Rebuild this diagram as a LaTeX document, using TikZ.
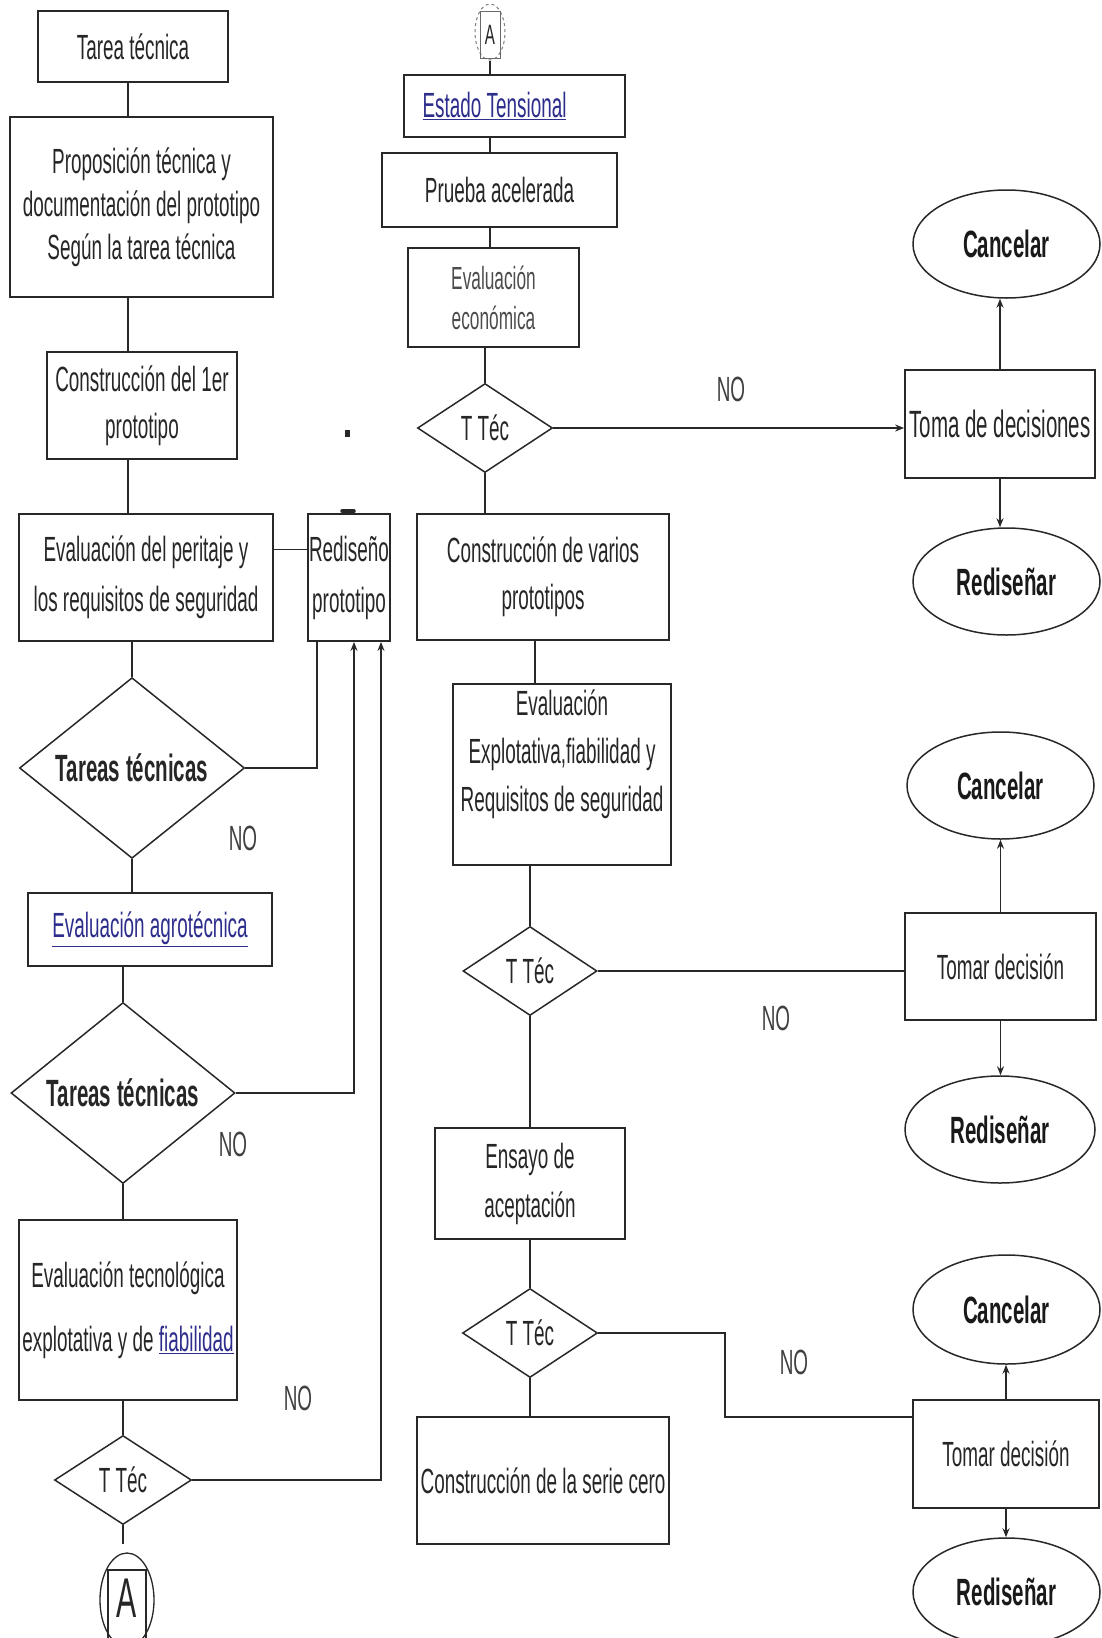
\documentclass[tikz,border=0pt]{standalone}
\usepackage{fontspec}
\setmainfont{Liberation Sans}[FakeStretch=0.54]
\usetikzlibrary{shapes.geometric,arrows.meta}
\definecolor{enlace}{RGB}{45,45,140}
\definecolor{trazo}{RGB}{40,40,40}
\newcommand{\letra}{\fontsize{35}{46}\selectfont}
\newcommand{\letrab}{\fontsize{38}{46}\selectfont\bfseries}
\newcommand{\enlace}[1]{\textcolor{enlace}{\underline{#1}}}
\tikzset{
  caja/.style={draw=trazo, line width=1.8pt, rectangle, inner sep=0pt, align=center, font=\letra, text=black!85},
  rombo/.style={draw=trazo, line width=1.5pt, diamond, inner sep=0pt, align=center, font=\letra, text=black!85},
  ovalo/.style={draw=trazo, line width=1.5pt, ellipse, inner sep=0pt, font=\letrab, text=black!90},
  linea/.style={draw=trazo, line width=1.3pt},
  flecha/.style={linea, -{Stealth[length=9pt,width=7pt]}},
  etiq/.style={font=\letra, text=black!75}
}
\begin{document}
\begin{tikzpicture}[x=1pt,y=-1pt]
\useasboundingbox (0,0) rectangle (1102,1638);
% columna izquierda
\node[caja, minimum width=190pt, minimum height=71pt] (tarea) at (133,46.5) {Tarea técnica};
\node[caja, minimum width=263pt, minimum height=180pt, font={\fontsize{35}{43}\selectfont}] (propos) at (141.5,207) {Proposición técnica y\\documentación del prototipo\\Según la tarea técnica};
\node[caja, minimum width=190pt, minimum height=107pt, font={\fontsize{35}{47}\selectfont}] (constr1) at (142,405.5) {Construcción del 1er\\prototipo};
\node[caja, minimum width=254pt, minimum height=127pt, font={\fontsize{35}{50}\selectfont}] (peritaje) at (146,577.5) {Evaluación del peritaje y\\los requisitos de seguridad};
\node[caja, minimum width=82pt, minimum height=127pt, font={\fontsize{35}{51}\selectfont}] (redis) at (349,577.5) {Rediseño\\prototipo};
\node[rombo, minimum width=225pt, minimum height=180pt, font=\letrab] (TT1) at (132,768) {Tareas técnicas};
\node[caja, minimum width=244pt, minimum height=73pt] (agro) at (150,929.5) {\enlace{Evaluación agrotécnica}};
\node[rombo, minimum width=224pt, minimum height=181pt, font=\letrab] (TT2) at (123,1093) {Tareas técnicas};
\node[caja, minimum width=218pt, minimum height=180pt, font={\fontsize{35}{64}\selectfont}] (tecno) at (128,1310) {Evaluación tecnológica\\explotativa y de \enlace{fiabilidad}};
\node[rombo, minimum width=137pt, minimum height=89pt] (TTl) at (123,1480) {T Téc};
\node[draw=trazo, line width=1.3pt, ellipse, minimum width=54pt, minimum height=94pt] (Abot) at (127,1600) {};
\draw[trazo, line width=1.2pt] (108,1570) rectangle (146,1650);
\node[font={\fontsize{56}{56}\selectfont}, text=black!85] (Aletra) at (127,1598) {A};
\node[etiq] (no1) at (243,838) {NO};
\node[etiq] (no2) at (233,1144) {NO};
\node[etiq] (no3) at (298,1398) {NO};
\fill[trazo] (345,430) rectangle (350,437);
\draw[trazo, line width=3.5pt, line cap=round] ([xshift=-7pt,yshift=2pt]redis.north) -- ([xshift=5pt,yshift=2pt]redis.north);
\coordinate (colL) at (128,0);
\draw[linea] (tarea.south -| colL) -- (propos.north -| colL);
\draw[linea] (propos.south -| colL) -- (constr1.north -| colL);
\draw[linea] (constr1.south -| colL) -- (peritaje.north -| colL);
\draw[linea] (peritaje.south -| TT1.north) -- (TT1.north);
\draw[linea] ([yshift=28pt]peritaje.east) -- ([yshift=28pt]redis.west);
\draw[linea] (TT1.south) -- (TT1.south |- agro.north);
\draw[linea] (agro.south -| TT2.north) -- (TT2.north);
\draw[linea] (TT2.south) -- (TT2.south |- tecno.north);
\draw[linea] (tecno.south -| TTl.north) -- (TTl.north);
\draw[linea] (TTl.south) -- ([yshift=8pt]TTl.south |- Abot.north);
\draw[linea] (TT1.east) -| ([xshift=-32pt]redis.south);
\draw[flecha] (TT2.east) -| ([xshift=5pt]redis.south);
\draw[flecha] (TTl.east) -| ([xshift=32pt]redis.south);
% columna central
\node[draw=trazo!60, dashed, line width=1pt, ellipse, minimum width=30pt, minimum height=56pt] (Atop) at (490,32) {};
\draw[trazo!70, line width=1pt] (480,11) rectangle (500,58);
\node[font={\fontsize{28}{28}\selectfont}, text=black!85] (Aletra2) at (490,35) {A};
\node[caja, minimum width=221pt, minimum height=62pt] (estado) at (514.5,106) {\hspace*{-40pt}\enlace{Estado Tensional}};
\node[caja, minimum width=235pt, minimum height=74pt] (prueba) at (499.5,190) {Prueba acelerada};
\node[caja, minimum width=171pt, minimum height=99pt, font={\fontsize{32}{40}\selectfont}, text=black!70] (econ) at (493.5,297.5) {Evaluación\\económica};
\node[rombo, minimum width=135pt, minimum height=89pt] (M1) at (485,428) {T Téc};
\node[caja, minimum width=252pt, minimum height=126pt, font={\fontsize{35}{47}\selectfont}] (varios) at (543,577) {Construcción de varios\\prototipos};
\node[caja, minimum width=218pt, minimum height=181pt, font={\fontsize{35}{48}\selectfont}] (explot) at (562,774.5) {Evaluación\\Explotativa,fiabilidad y\\Requisitos de seguridad\\\mbox{}};
\node[rombo, minimum width=134pt, minimum height=89pt] (M2) at (530,971) {T Téc};
\node[caja, minimum width=190pt, minimum height=111pt, font={\fontsize{35}{49}\selectfont}] (ensayo) at (530,1183.5) {Ensayo de\\aceptación};
\node[rombo, minimum width=135pt, minimum height=89pt] (M3) at (530,1333) {T Téc};
\node[caja, minimum width=252pt, minimum height=127pt] (serie) at (543,1480.5) {Construcción de la serie cero};
\node[etiq] (no4) at (731,389) {NO};
\node[etiq] (no5) at (776,1018) {NO};
\node[etiq] (no6) at (794,1362) {NO};
\draw[linea] (Atop.south) -- (Atop.south |- estado.north);
\draw[linea] (estado.south -| Atop) -- (prueba.north -| Atop);
\draw[linea] (prueba.south -| Atop) -- (econ.north -| Atop);
\draw[linea] (econ.south -| M1.north) -- (M1.north);
\draw[linea] (M1.south) -- (M1.south |- varios.north);
\draw[linea] ([xshift=-8pt]varios.south) -- ([xshift=-8pt]varios.south |- explot.north);
\draw[linea] (explot.south -| M2.north) -- (M2.north);
\draw[linea] (M2.south) -- (M2.south |- ensayo.north);
\draw[linea] (ensayo.south) -- (M3.north);
\draw[linea] (M3.south) -- (M3.south |- serie.north);
% columna derecha
\node[ovalo, minimum width=187pt, minimum height=108pt] (canc1) at (1006.5,244) {Cancelar};
\node[caja, minimum width=190pt, minimum height=108pt, font={\fontsize{38}{46}\selectfont}] (toma) at (1000,424) {Toma de decisiones};
\node[ovalo, minimum width=187pt, minimum height=107pt] (redi1) at (1006.5,581.5) {Rediseñar};
\node[ovalo, minimum width=187pt, minimum height=107pt] (canc2) at (1000.5,785.5) {Cancelar};
\node[caja, minimum width=191pt, minimum height=107pt] (tomar1) at (1000.5,966.5) {Tomar decisión};
\node[ovalo, minimum width=190pt, minimum height=107pt] (redi2) at (1000,1129.5) {Rediseñar};
\node[ovalo, minimum width=187pt, minimum height=109pt] (canc3) at (1006.5,1309.5) {Cancelar};
\node[caja, minimum width=186pt, minimum height=108pt] (tomar2) at (1006,1454) {Tomar decisión};
\node[ovalo, minimum width=187pt, minimum height=108pt] (redi3) at (1006.5,1592) {Rediseñar};
\coordinate (codo) at (725,1417);
\draw[flecha] (M1.east) -- (M1.east -| toma.west);
\draw[linea] (M2.east) -- (M2.east -| tomar1.west);
\draw[linea] (M3.east) -| (codo) -- (codo -| tomar2.west);
\draw[flecha] (toma.north) -- (toma.north |- canc1.south);
\draw[flecha] (toma.south) -- (toma.south |- redi1.north);
\draw[flecha] (tomar1.north) -- (tomar1.north |- canc2.south);
\draw[flecha] (tomar1.south) -- (tomar1.south |- redi2.north);
\draw[flecha] (tomar2.north) -- (tomar2.north |- canc3.south);
\draw[flecha] (tomar2.south) -- (tomar2.south |- redi3.north);
\end{tikzpicture}
\end{document}
